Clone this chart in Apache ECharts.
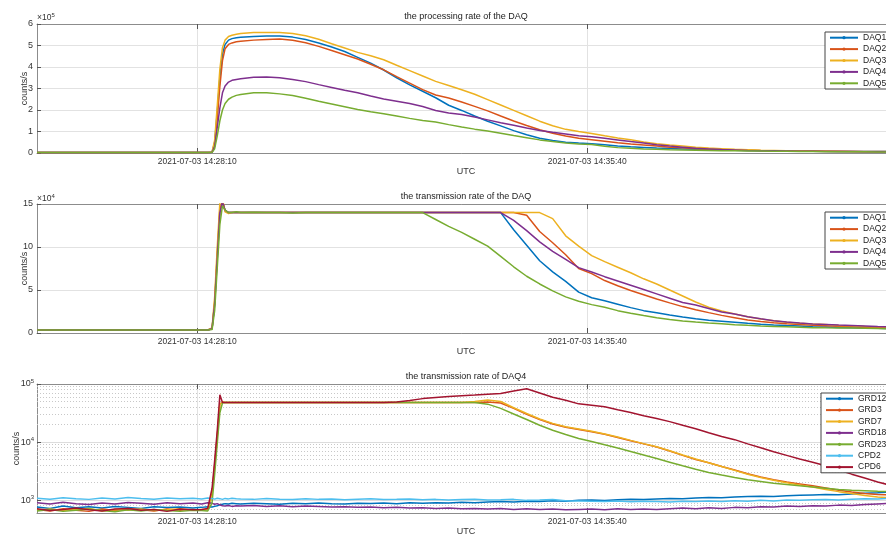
<!DOCTYPE html>
<html><head><meta charset="utf-8">
<script src="https://cdn.jsdelivr.net/npm/echarts@6/dist/echarts.min.js"></script>
<style>html,body{margin:0;padding:0;background:#fff}#c{width:886px;height:538px}</style>
</head><body><div id="c"></div><script>
// seconds relative to 2021-07-03 14:28:10 UTC
const times = [-185,-170,-155,-140,-125,-110,-95,-80,-65,-50,-35,-20,-5,
5,12,17,20,23,26,29,32,36,40,45,
50,65,80,95,110,125,140,155,170,185,
200,215,230,245,260,275,290,305,320,335,
350,365,380,395,410,425,440,455,470,485,
500,515,530,545,560,575,590,605,620,635,
650,665,680,695,710,725,740,755,770,785,
800,805];
const xTickValues = [0, 450];
const daqNames = ['DAQ1','DAQ2','DAQ3','DAQ4','DAQ5'];
const chanNames = ['GRD12','GRD3','GRD7','GRD18','GRD23','CPD2','CPD6'];

// processing rate, x10^5 counts/s
const procDAQ1 = [0.02,0.02,0.02,0.02,0.02,0.02,0.02,0.02,0.02,0.02,0.02,0.02,0.02,
0.02,0.02,0.04,0.5,1.9,3.5,4.6,5.05,5.25,5.32,5.36,
5.38,5.42,5.44,5.44,5.39,5.28,5.12,4.93,4.72,4.45,
4.18,3.86,3.50,3.17,2.87,2.57,2.22,1.98,1.72,1.48,
1.26,1.04,0.85,0.69,0.58,0.50,0.46,0.43,0.38,0.33,
0.29,0.26,0.23,0.21,0.19,0.17,0.15,0.14,0.13,0.12,
0.11,0.10,0.09,0.09,0.08,0.08,0.07,0.07,0.07,0.07,
0.07,0.07];
const procDAQ2 = [0.02,0.02,0.02,0.02,0.02,0.02,0.02,0.02,0.02,0.02,0.02,0.02,0.02,
0.02,0.02,0.04,0.4,1.6,3.1,4.3,4.85,5.05,5.12,5.17,
5.20,5.25,5.28,5.30,5.24,5.13,4.96,4.77,4.57,4.37,
4.13,3.87,3.55,3.25,2.95,2.70,2.56,2.37,2.17,1.96,
1.72,1.49,1.28,1.08,0.92,0.79,0.69,0.62,0.55,0.48,
0.42,0.37,0.32,0.27,0.24,0.20,0.18,0.16,0.15,0.14,
0.12,0.11,0.10,0.09,0.09,0.08,0.08,0.07,0.07,0.07,
0.07,0.07];
const procDAQ3 = [0.02,0.02,0.02,0.02,0.02,0.02,0.02,0.02,0.02,0.02,0.02,0.02,0.02,
0.02,0.02,0.05,0.6,2.2,3.9,4.9,5.25,5.42,5.48,5.52,
5.56,5.60,5.61,5.61,5.56,5.45,5.29,5.08,4.88,4.68,
4.52,4.34,4.08,3.83,3.58,3.33,3.14,2.94,2.73,2.48,
2.23,1.98,1.73,1.48,1.27,1.10,1.00,0.91,0.80,0.70,
0.62,0.51,0.43,0.37,0.32,0.27,0.23,0.20,0.17,0.15,
0.13,0.12,0.10,0.09,0.08,0.08,0.07,0.07,0.06,0.06,
0.06,0.06];
const procDAQ4 = [0.02,0.02,0.02,0.02,0.02,0.02,0.02,0.02,0.02,0.02,0.02,0.02,0.02,
0.02,0.02,0.03,0.3,1.2,2.1,2.8,3.12,3.30,3.38,3.42,
3.45,3.52,3.53,3.50,3.42,3.32,3.18,3.05,2.92,2.80,
2.65,2.51,2.41,2.30,2.16,1.98,1.86,1.79,1.67,1.54,
1.41,1.29,1.16,1.05,0.96,0.88,0.80,0.76,0.69,0.61,
0.53,0.46,0.38,0.32,0.27,0.22,0.19,0.16,0.14,0.12,
0.11,0.10,0.09,0.08,0.08,0.07,0.07,0.07,0.06,0.06,
0.06,0.06];
const procDAQ5 = [0.02,0.02,0.02,0.02,0.02,0.02,0.02,0.02,0.02,0.02,0.02,0.02,0.02,
0.02,0.02,0.03,0.2,0.8,1.5,2.0,2.3,2.5,2.6,2.68,
2.72,2.80,2.80,2.75,2.67,2.55,2.41,2.28,2.15,2.02,
1.92,1.83,1.72,1.61,1.51,1.44,1.32,1.21,1.11,1.02,
0.92,0.81,0.71,0.61,0.53,0.46,0.42,0.39,0.31,0.25,
0.22,0.19,0.17,0.15,0.14,0.13,0.12,0.11,0.10,0.09,
0.09,0.08,0.08,0.07,0.07,0.06,0.06,0.06,0.06,0.05,
0.05,0.05];

// transmission rate, x10^4 counts/s
const transDAQ1 = [0.35,0.36,0.34,0.35,0.36,0.35,0.34,0.35,0.36,0.35,0.34,0.35,0.35,
0.35,0.35,0.5,3.5,9.0,14.2,15.3,14.2,14.0,14.0,14.0,
14.0,14.0,14.0,14.0,14.0,14.0,14.0,14.0,14.0,14.0,
14.0,14.0,14.0,14.0,14.0,14.0,14.0,14.0,14.0,14.0,
14.0,12.0,10.2,8.4,7.1,6.0,4.75,4.1,3.75,3.35,
2.95,2.6,2.35,2.1,1.87,1.65,1.48,1.36,1.24,1.12,
1.02,0.93,0.86,0.80,0.74,0.70,0.65,0.61,0.58,0.54,
0.53,0.52];
const transDAQ2 = [0.35,0.36,0.34,0.35,0.36,0.35,0.34,0.35,0.36,0.35,0.34,0.35,0.35,
0.35,0.35,0.5,3.6,9.2,14.4,15.4,14.2,14.0,14.0,14.0,
14.0,14.0,14.0,14.0,14.0,14.0,14.0,14.0,14.0,14.0,
14.0,14.0,14.0,14.0,14.0,14.0,14.0,14.0,14.0,14.0,
14.0,14.0,13.7,11.8,10.5,9.1,7.5,6.9,6.1,5.5,
4.95,4.45,3.95,3.5,3.07,2.7,2.37,2.05,1.78,1.5,
1.33,1.18,1.07,0.98,0.90,0.84,0.78,0.73,0.68,0.63,
0.61,0.60];
const transDAQ3 = [0.35,0.36,0.34,0.35,0.36,0.35,0.34,0.35,0.36,0.35,0.34,0.35,0.35,
0.35,0.35,0.6,4.2,10.0,15.2,15.6,14.1,13.9,14.0,14.0,
14.0,14.0,14.0,14.0,14.0,14.0,14.0,14.0,14.0,14.0,
14.0,14.0,14.0,14.0,14.0,14.0,14.0,14.0,14.0,14.0,
14.0,14.0,14.0,14.0,13.3,11.3,10.1,9.0,8.3,7.65,
7.0,6.3,5.7,5.0,4.3,3.6,3.0,2.55,2.2,1.88,
1.62,1.42,1.25,1.13,1.05,0.98,0.88,0.83,0.77,0.72,
0.70,0.69];
const transDAQ4 = [0.35,0.36,0.34,0.35,0.36,0.35,0.34,0.35,0.36,0.35,0.34,0.35,0.35,
0.35,0.35,0.5,3.3,8.6,14.0,15.2,14.3,14.0,14.0,14.0,
14.0,14.0,14.0,14.0,14.0,14.0,14.0,14.0,14.0,14.0,
14.0,14.0,14.0,14.0,14.0,14.0,14.0,14.0,14.0,14.0,
14.0,13.1,11.9,10.6,9.5,8.55,7.6,7.1,6.55,6.05,
5.55,5.05,4.55,4.05,3.55,3.25,2.85,2.45,2.2,1.9,
1.65,1.42,1.27,1.15,1.05,0.99,0.93,0.88,0.82,0.75,
0.72,0.71];
const transDAQ5 = [0.35,0.36,0.34,0.35,0.36,0.35,0.34,0.35,0.36,0.35,0.34,0.35,0.35,
0.35,0.35,0.4,2.6,7.6,12.6,14.8,14.3,14.0,14.0,14.1,
14.0,14.05,14.0,14.0,13.95,14.0,14.0,14.0,14.0,14.0,
14.0,14.0,14.0,14.0,14.0,13.2,12.4,11.7,10.9,10.1,
8.9,7.7,6.6,5.7,4.9,4.2,3.7,3.3,3.0,2.6,
2.3,2.03,1.77,1.57,1.40,1.27,1.16,1.07,0.97,0.89,
0.82,0.77,0.72,0.67,0.62,0.60,0.59,0.57,0.55,0.51,
0.50,0.50];

// DAQ4 channel transmission rate, counts/s
const chGRD12 = [760,720,790,740,770,730,780,750,720,770,745,760,735,
750,770,760,780,800,830,850,870,860,880,870,
860,885,870,850,880,865,890,870,855,880,
875,890,870,900,880,905,890,920,905,930,
945,930,960,950,975,960,990,1000,985,1010,
1030,1020,1050,1070,1060,1090,1110,1100,1130,1150,
1170,1160,1190,1210,1230,1250,1240,1280,1310,1340,
1390,1400];
const chGRD3 = [690,650,710,670,640,700,660,720,680,650,700,670,690,
670,700,1300,4000,13000,45000,49000,48000,48000,48000,48000,
48000,48000,48000,48000,48000,48000,48000,48000,48000,48000,
48000,48000,48000,48000,48000,48000,48000,48000,48000,49000,
47000,38000,30000,24500,20500,18000,16500,15000,13600,12000,
10500,9300,8200,7000,5900,5000,4400,3800,3300,2850,
2500,2250,2050,1900,1760,1620,1480,1380,1300,1250,
1230,1230];
const chGRD7 = [670,700,660,690,720,650,690,670,700,660,680,710,670,
690,680,1200,3800,12500,44000,49000,48000,48000,48000,48000,
48000,48000,48000,48000,48000,48000,48000,48000,48000,48000,
48000,48000,48000,48000,48000,48000,48000,48000,50000,53000,
50000,39000,31000,25000,21000,18300,16800,15300,13800,12200,
10700,9400,8300,7100,6000,5100,4400,3800,3250,2800,
2450,2200,2000,1820,1680,1530,1400,1300,1200,1130,
1100,1090];
const chGRD18 = [900,860,920,870,840,890,860,910,880,850,900,870,890,
860,900,880,850,870,830,800,790,810,780,800,
790,810,780,800,770,790,780,760,770,750,
760,740,750,730,740,720,730,710,720,700,
715,690,710,690,700,680,690,700,680,710,
690,700,690,710,730,710,740,720,750,740,
770,760,790,780,800,790,820,810,840,860,
880,890];
const chGRD23 = [650,690,640,670,700,660,630,680,650,690,660,640,670,
660,650,900,2800,9500,32000,47000,48000,48000,48000,48000,
48000,48000,48000,48000,48000,48000,48000,48000,48000,48000,
48000,48000,48000,48000,48000,48000,48000,48000,48000,45000,
38000,30500,24500,19500,16000,13500,11500,10200,9000,7900,
6900,6000,5200,4500,3900,3400,3000,2700,2450,2250,
2100,1950,1850,1760,1680,1600,1520,1480,1450,1420,
1400,1400];
const chCPD2 = [1080,1040,1100,1060,1030,1090,1050,1110,1070,1040,1090,1060,1080,
1050,1090,1070,1040,1080,1060,1030,1070,1050,1080,1060,
1050,1030,1070,1040,1020,1060,1030,1050,1010,1040,
1060,1020,1030,1050,1010,1030,1000,1020,1040,1000,
1010,1030,990,1000,1020,980,970,960,950,970,
940,960,950,930,960,950,970,950,980,960,
990,970,1000,990,1010,1020,1000,1040,1060,1050,
1080,1090];
const chCPD6 = [710,660,690,730,680,650,700,720,670,690,640,700,680,
690,720,1600,4800,16000,65000,48000,48000,48000,48000,48000,
48000,48000,48000,48000,48000,48000,48000,48000,48000,48000,
48000,48000,49000,52000,56000,58500,61000,63000,64500,66500,
68500,76000,83000,70000,59000,52500,45500,43000,40500,36000,
32200,28500,25500,22500,19500,17000,14500,12500,11000,9300,
8000,6800,5900,5100,4500,3900,3300,2800,2400,2050,
1800,1750];

const logMajor = [1000, 10000, 100000];
const logMinor = [700,800,900,2000,3000,4000,5000,6000,7000,8000,9000,20000,30000,40000,50000,60000,70000,80000,90000];

const C = ['#0072BD','#D95319','#EDB120','#7E2F8E','#77AC30','#4DBEEE','#A2142F'];
const FONT = '"Liberation Sans", Arial, Helvetica, sans-serif';
const AXC = '#8c8c8c', TXC = '#333', GRC = '#e2e2e2';

const all = [procDAQ1,procDAQ2,procDAQ3,procDAQ4,procDAQ5,transDAQ1,transDAQ2,transDAQ3,transDAQ4,transDAQ5,chGRD12,chGRD3,chGRD7,chGRD18,chGRD23,chCPD2,chCPD6];
all.forEach((a,i)=>{ if (a.length !== times.length) throw new Error('array '+i+' length '+a.length+' != '+times.length); });

function clock(t){
  const b = 14*3600 + 28*60 + 10 + t;
  const p = n => String(n).padStart(2,'0');
  return '2021-07-03 ' + p(Math.floor(b/3600)) + ':' + p(Math.floor(b%3600/60)) + ':' + p(b%60);
}
function xBottom(gi){
  return {type:'value', gridIndex:gi, position:'bottom', min:-185, max:805,
    name:'UTC', nameLocation:'middle', nameGap:14, nameMoveOverlap:false,
    nameTextStyle:{fontSize:9, color:TXC, fontFamily:FONT},
    axisLine:{show:true, onZero:false, lineStyle:{color:AXC, width:1}},
    axisTick:{show:true, inside:true, length:5, customValues:xTickValues, lineStyle:{color:'#555'}},
    axisLabel:{show:true, customValues:xTickValues, formatter:clock, fontSize:8.5, color:TXC, margin:4, fontFamily:FONT},
    splitLine:{show:true, lineStyle:{color:GRC, width:1}}};
}
function xTop(gi){
  return {type:'value', gridIndex:gi, position:'top', min:-185, max:805,
    axisLine:{show:true, onZero:false, lineStyle:{color:AXC, width:1}},
    axisTick:{show:true, inside:true, length:5, customValues:xTickValues, lineStyle:{color:'#555'}},
    axisLabel:{show:false}, splitLine:{show:false}};
}
function yLin(gi, max, interval){
  return {type:'value', gridIndex:gi, min:0, max:max, interval:interval,
    name:'counts/s', nameLocation:'middle', nameGap:8, nameMoveOverlap:false,
    nameTextStyle:{fontSize:9, color:TXC, fontFamily:FONT},
    axisLine:{show:true, onZero:false, lineStyle:{color:AXC, width:1}},
    axisTick:{show:true, inside:true, length:4, lineStyle:{color:'#555'}},
    axisLabel:{fontSize:9, color:TXC, margin:4, fontFamily:FONT},
    splitLine:{show:true, lineStyle:{color:GRC, width:1}}};
}
const supRich = {b:{fontSize:9, color:TXC, fontFamily:FONT}, s:{fontSize:6, color:TXC, fontFamily:FONT, padding:[0,0,6,0]}};
const yLog = {type:'log', logBase:10, gridIndex:2, min:600, max:100000,
  name:'counts/s', nameLocation:'middle', nameGap:16, nameMoveOverlap:false,
  nameTextStyle:{fontSize:9, color:TXC, fontFamily:FONT},
  axisLine:{show:true, onZero:false, lineStyle:{color:AXC, width:1}},
  axisTick:{show:true, inside:true, length:4, customValues:logMajor, lineStyle:{color:'#555'}},
  axisLabel:{customValues:logMajor, margin:3, formatter: v => '{b|10}{s|' + Math.round(Math.log10(v)) + '}', rich:supRich},
  splitLine:{show:true, lineStyle:{color:'#dcdcdc', width:1}}};

function mk(name, arr, gi, color){
  return {name:name, type:'line', xAxisIndex:gi*2, yAxisIndex:gi,
    data: times.map((t,i)=>[t, arr[i]]),
    showSymbol:false, symbol:'circle', symbolSize:3, color:color,
    lineStyle:{width:1.5, color:color, type:'solid'}, itemStyle:{color:color},
    silent:true, animation:false, z:3, clip:true};
}
const series = [];
[procDAQ1,procDAQ2,procDAQ3,procDAQ4,procDAQ5].forEach((a,i)=>series.push(mk(daqNames[i], a, 0, C[i])));
[transDAQ1,transDAQ2,transDAQ3,transDAQ4,transDAQ5].forEach((a,i)=>series.push(mk(daqNames[i], a, 1, C[i])));
series.push({name:'minorGrid', type:'line', xAxisIndex:4, yAxisIndex:2, data:[], silent:true, z:1,
  markLine:{silent:true, animation:false, z:1, symbol:['none','none'], label:{show:false},
    lineStyle:{type:[1,2], color:'#c8c8c8', width:1}, data: logMinor.map(v=>({yAxis:v}))}});
[chGRD12,chGRD3,chGRD7,chGRD18,chGRD23,chCPD2,chCPD6].forEach((a,i)=>series.push(mk(chanNames[i], a, 2, C[i])));

function legendAt(names, left, top, w){
  return {data:names, orient:'vertical', left:left, top:top, itemWidth:w, itemHeight:4, itemGap:0,
    padding:[0,40,0,4], backgroundColor:'#fff', borderColor:'#444', borderWidth:1, borderRadius:0,
    textStyle:{fontSize:8.5, lineHeight:11.4, color:'#222', fontFamily:FONT}, selectedMode:false};
}
function titleAt(text, top){
  return {text:text, left:466, top:top, textAlign:'center', padding:0,
    textStyle:{fontSize:9, fontWeight:'normal', color:'#222', fontFamily:FONT}};
}
function expAt(p, top){
  return {text:'{a|×10}{s|' + p + '}', left:37, top:top, padding:0,
    textStyle:{fontWeight:'normal', rich:{a:{fontSize:8.5, fontWeight:'normal', color:TXC, fontFamily:FONT}, s:{fontSize:6, fontWeight:'normal', color:TXC, fontFamily:FONT, padding:[0,0,6,0]}}}};
}

const chart = echarts.init(document.getElementById('c'), null, {renderer:'canvas'});
chart.setOption({
  animation:false,
  backgroundColor:'#fff',
  textStyle:{fontFamily:FONT},
  title:[titleAt('the processing rate of the DAQ', 12), titleAt('the transmission rate of the DAQ', 192), titleAt('the transmission rate of DAQ4', 372), expAt(5, 12), expAt(4, 193)],
  grid:[
    {left:37, right:-9, top:24, height:129, containLabel:false, outerBoundsMode:'none'},
    {left:37, right:-9, top:204, height:129, containLabel:false, outerBoundsMode:'none'},
    {left:37, right:-9, top:384, height:129, containLabel:false, outerBoundsMode:'none'}
  ],
  xAxis:[xBottom(0), xTop(0), xBottom(1), xTop(1), xBottom(2), xTop(2)],
  yAxis:[yLin(0, 6, 1), yLin(1, 15, 5), yLog],
  legend:[legendAt(daqNames, 825, 32, 28), legendAt(daqNames, 825, 212, 28), legendAt(chanNames, 821, 393, 27)],
  series:series
});
</script></body></html>
